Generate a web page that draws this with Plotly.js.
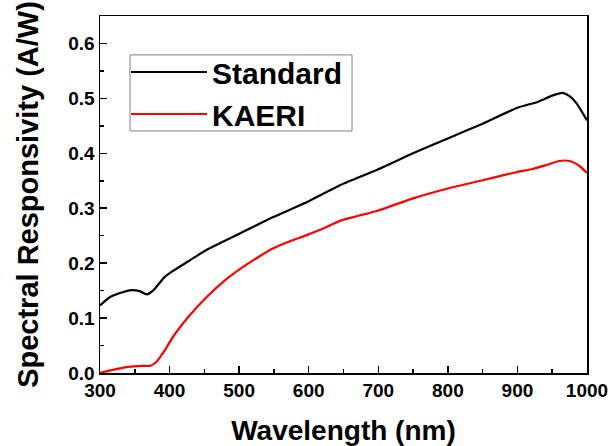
<!DOCTYPE html>
<html>
<head>
<meta charset="utf-8">
<script src="https://cdn.plot.ly/plotly-3.0.1.min.js"></script>
<style>html,body{margin:0;padding:0;background:#fff;}#chart{width:611px;height:446px;}</style>
</head>
<body>
<div id="chart"></div>
<script>
// Wavelength (nm) and responsivity (A/W)
const wlStandard = [300, 314, 330, 345, 357, 367, 377, 393, 405, 429, 453, 501, 549, 597, 645, 700, 750, 800, 850, 900, 930, 950, 965, 975, 985, 1000];
const standardResp = [0.123, 0.138, 0.146, 0.151, 0.149, 0.143, 0.151, 0.175, 0.186, 0.205, 0.224, 0.254, 0.284, 0.311, 0.342, 0.371, 0.400, 0.427, 0.454, 0.483, 0.494, 0.505, 0.510, 0.504, 0.491, 0.460];
const wlKaeri = [300, 320, 340, 360, 372, 381, 393, 405, 429, 453, 477, 501, 525, 549, 573, 597, 621, 645, 700, 750, 800, 850, 900, 920, 940, 960, 975, 990, 1000];
const kaeriResp = [0.000, 0.006, 0.011, 0.013, 0.013, 0.020, 0.041, 0.066, 0.105, 0.138, 0.166, 0.189, 0.209, 0.227, 0.240, 0.251, 0.263, 0.277, 0.296, 0.318, 0.336, 0.351, 0.366, 0.371, 0.378, 0.386, 0.386, 0.376, 0.364];
const seriesNames = ["Standard", "KAERI"];
const xTicks = [300, 400, 500, 600, 700, 800, 900, 1000];
const yTicks = [0.0, 0.1, 0.2, 0.3, 0.4, 0.5, 0.6];

const FONT = "Liberation Sans, Arial, sans-serif";

const traces = [
  {x: wlStandard, y: standardResp, name: seriesNames[0], mode: "lines",
   line: {color: "#000000", width: 2.2, shape: "spline", smoothing: 0.6}},
  {x: wlKaeri, y: kaeriResp, name: seriesNames[1], mode: "lines",
   line: {color: "#ff0000", width: 2.2, shape: "spline", smoothing: 0.6}}
];

const layout = {
  width: 611, height: 446,
  margin: {l: 100, r: 24, t: 16, b: 73, pad: 0},
  paper_bgcolor: "#ffffff", plot_bgcolor: "#ffffff",
  font: {family: FONT, color: "#000000"},
  showlegend: true,
  legend: {
    x: 0.0534, y: 0.916, xanchor: "left", yanchor: "top",
    bgcolor: "rgba(255,255,255,0)", borderwidth: 0,
    font: {family: FONT, size: 30, color: "#000000", weight: "bold"},
    itemwidth: 76, tracegroupgap: 0
  },
  shapes: [
    {type: "rect", xref: "paper", yref: "paper", x0: 0.0616, x1: 0.5175, y0: 0.678, y1: 0.891,
     line: {color: "#808080", width: 1}, fillcolor: "rgba(0,0,0,0)", layer: "above"}
  ],
  xaxis: {
    range: [300, 1000], tickvals: xTicks, ticktext: xTicks.map(String),
    showgrid: false, zeroline: false,
    showline: true, linecolor: "#000000", linewidth: 1.5, mirror: true,
    ticks: "inside", ticklen: 7, tickwidth: 1.5, tickcolor: "#000000",
    minor: {ticks: "inside", ticklen: 4, tickwidth: 1.5, tickcolor: "#000000", dtick: 50, showgrid: false},
    tickfont: {family: FONT, size: 19, weight: "bold"},
    title: {text: "Wavelength (nm)", font: {family: FONT, size: 28, weight: "bold"}, standoff: 21}
  },
  yaxis: {
    range: [0, 0.65], tickvals: yTicks, ticktext: yTicks.map(v => v.toFixed(1)),
    showgrid: false, zeroline: false,
    showline: true, linecolor: "#000000", linewidth: 1.5, mirror: true,
    ticks: "inside", ticklen: 7, tickwidth: 1.5, tickcolor: "#000000",
    minor: {ticks: "inside", ticklen: 4, tickwidth: 1.5, tickcolor: "#000000", dtick: 0.05, showgrid: false},
    tickfont: {family: FONT, size: 19, weight: "bold"},
    title: {text: "Spectral Responsivity (A/W)", font: {family: FONT, size: 29, weight: "bold"}, standoff: 21}
  }
};

Plotly.newPlot("chart", traces, layout, {displayModeBar: false, staticPlot: true});
</script>
</body>
</html>
